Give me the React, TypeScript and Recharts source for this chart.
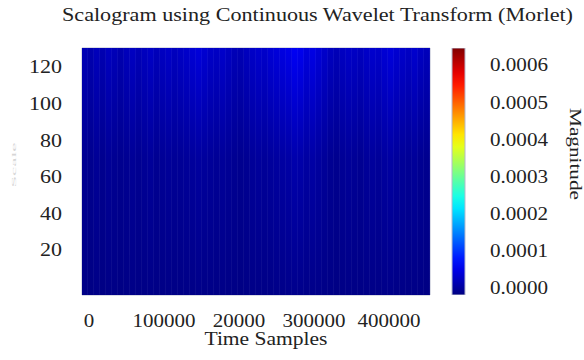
import { BarChart, Bar, XAxis, YAxis, Cell, ReferenceArea } from 'recharts';

// x ticks (the "20000" label is a typo in the source figure, kept as is)
const timeTicks = [0, 100000, 200000, 300000, 400000];
const timeTickLabels = ['0', '100000', '20000', '300000', '400000'];
const scaleTicks = [20, 40, 60, 80, 100, 120];
const magTicks = [0, 0.0001, 0.0002, 0.0003, 0.0004, 0.0005, 0.0006];

const SAMPLES_PER_COL = 8000;
const T_MAX = 464000;
const SCALE_MIN = -4.6;
const SCALE_MAX = 130.4;
const C_MIN = -0.00002;
const C_MAX = 0.000646;

// column magnitudes (x 1e-6) read at the top, middle and bottom of the scalogram
const topMag = [
  34, 30, 38, 32, 40, 36, 30, 38, 42, 36,
  40, 44, 38, 42, 46, 40, 44, 48, 54, 58,
  52, 46, 44, 48, 42, 36, 34, 40, 46, 50,
  48, 54, 58, 62, 66, 74, 70, 60, 64, 56,
  48, 40, 36, 42, 46, 44, 40, 46, 50, 48,
  54, 58, 52, 48, 44, 50, 42, 38,
];
const midMag = [
  12, 10, 14, 10, 14, 12, 10, 12, 14, 12,
  14, 16, 12, 14, 16, 14, 14, 16, 18, 20,
  18, 16, 14, 16, 14, 12, 10, 12, 16, 18,
  16, 18, 20, 22, 24, 28, 26, 22, 24, 20,
  16, 12, 10, 14, 16, 14, 12, 16, 18, 16,
  20, 22, 18, 16, 14, 16, 12, 10,
];
const lowMag = [
  4, 3, 5, 3, 4, 4, 3, 4, 5, 4,
  4, 5, 4, 4, 5, 4, 4, 5, 5, 6,
  5, 5, 4, 5, 4, 4, 3, 4, 5, 5,
  5, 5, 6, 6, 7, 8, 7, 6, 6, 6,
  5, 4, 3, 4, 5, 4, 4, 5, 5, 5,
  6, 6, 5, 5, 4, 5, 4, 3,
];

const FONT = '"Liberation Serif", "DejaVu Serif", serif';

function clamp01(v: number) {
  return Math.max(0, Math.min(1, v));
}

function jet(t: number): string {
  const x = clamp01(t);
  const r = clamp01(1.5 - Math.abs(4 * x - 3));
  const g = clamp01(1.5 - Math.abs(4 * x - 2));
  const b = clamp01(1.5 - Math.abs(4 * x - 1));
  const h = (v: number) => Math.round(v * 255).toString(16).padStart(2, '0');
  return `#${h(r)}${h(g)}${h(b)}`;
}

function magColor(m: number) {
  return jet((m * 1e-6) / C_MAX);
}

const columns = topMag.map((_, i) => ({
  t: (i + 0.5) * SAMPLES_PER_COL,
  span: [SCALE_MIN, SCALE_MAX],
}));

const colorbar = [{ name: 'c', span: [C_MIN, C_MAX] }];

function TimeTick(props: any) {
  const { x, y, payload } = props;
  const label = timeTickLabels[timeTicks.indexOf(payload.value)] ?? String(payload.value);
  return (
    <text
      x={x + 7}
      y={y}
      dy="0.71em"
      textAnchor="middle"
      fontSize={18}
      fontFamily={FONT}
      fill="#222"
      textLength={label.length * 10.5}
      lengthAdjust="spacingAndGlyphs"
    >
      {label}
    </text>
  );
}

function ScaleTick(props: any) {
  const { x, y, payload } = props;
  const label = String(payload.value);
  return (
    <text
      x={x}
      y={y}
      dy="0.355em"
      textAnchor="end"
      fontSize={18}
      fontFamily={FONT}
      fill="#222"
      textLength={label.length * 11}
      lengthAdjust="spacingAndGlyphs"
    >
      {label}
    </text>
  );
}

function MagTick(props: any) {
  const { x, y, payload } = props;
  return (
    <text
      x={x}
      y={y}
      dy="0.355em"
      textAnchor="start"
      fontSize={18}
      fontFamily={FONT}
      fill="#222"
      textLength={58}
      lengthAdjust="spacingAndGlyphs"
    >
      {payload.value.toFixed(4)}
    </text>
  );
}

export default function App() {
  const jetStops = Array.from({ length: 21 }, (_, k) => k / 20);
  return (
    <div style={{ position: 'absolute', left: 0, top: 0, width: 584, height: 360, background: '#fff' }}>
      <svg width={0} height={0} style={{ position: 'absolute' }}>
        <defs>
          <linearGradient id="jetbar" x1="0" y1="0" x2="0" y2="1">
            {jetStops.map((o) => (
              <stop key={o} offset={o} stopColor={jet(1 - o)} />
            ))}
          </linearGradient>
          {topMag.map((m, i) => (
            <linearGradient key={i} id={`col${i}`} x1="0" y1="0" x2="0" y2="1">
              <stop offset={0} stopColor={magColor(m)} />
              <stop offset={0.45} stopColor={magColor(midMag[i])} />
              <stop offset={1} stopColor={magColor(lowMag[i])} />
            </linearGradient>
          ))}
        </defs>
      </svg>

      <div style={{ position: 'absolute', left: 0, top: 0 }}>
        <BarChart
          width={584}
          height={360}
          data={columns}
          margin={{ top: 48, right: 154, bottom: 0, left: 22 }}
          barCategoryGap={0}
          barGap={0}
        >
          <XAxis
            dataKey="t"
            type="number"
            domain={[0, T_MAX]}
            ticks={timeTicks}
            allowDataOverflow
            height={65}
            tickSize={0}
            tickMargin={19}
            axisLine={false}
            tickLine={false}
            tick={<TimeTick />}
          />
          <YAxis
            type="number"
            domain={[SCALE_MIN, SCALE_MAX]}
            ticks={scaleTicks}
            allowDataOverflow
            width={60}
            tickSize={0}
            tickMargin={20}
            axisLine={false}
            tickLine={false}
            tick={<ScaleTick />}
          />
          <Bar dataKey="span" barSize={5.9} isAnimationActive={false}>
            {columns.map((_, i) => (
              <Cell key={i} fill={`url(#col${i})`} stroke={`url(#col${i})`} strokeWidth={0.6} />
            ))}
          </Bar>
          <ReferenceArea
            x1={0}
            x2={T_MAX}
            y1={SCALE_MIN}
            y2={SCALE_MAX}
            fill="none"
            fillOpacity={0}
            stroke="#b4b8cc"
            strokeWidth={1}
          />
        </BarChart>
      </div>

      <div style={{ position: 'absolute', left: 0, top: 0 }}>
        <BarChart
          width={584}
          height={360}
          data={colorbar}
          margin={{ top: 48, right: 0, bottom: 65, left: 452 }}
          barCategoryGap={0}
        >
          <XAxis dataKey="name" hide />
          <YAxis
            orientation="right"
            type="number"
            domain={[C_MIN, C_MAX]}
            ticks={magTicks}
            allowDataOverflow
            width={119}
            tickSize={0}
            tickMargin={25}
            axisLine={false}
            tickLine={false}
            tick={<MagTick />}
          />
          <Bar dataKey="span" fill="url(#jetbar)" stroke="#b4b8cc" strokeWidth={1} isAnimationActive={false} />
        </BarChart>
      </div>

      <svg width={584} height={360} style={{ position: 'absolute', left: 0, top: 0, pointerEvents: 'none' }}>
        <text
          x={62}
          y={21}
          fontSize={19}
          fontFamily={FONT}
          fill="#222"
          textLength={511}
          lengthAdjust="spacingAndGlyphs"
        >
          Scalogram using Continuous Wavelet Transform (Morlet)
        </text>
        <text
          x={266}
          y={345}
          textAnchor="middle"
          fontSize={18}
          fontFamily={FONT}
          fill="#222"
          textLength={123}
          lengthAdjust="spacingAndGlyphs"
        >
          Time Samples
        </text>
        <text
          transform="translate(570 154) rotate(90)"
          textAnchor="middle"
          fontSize={16}
          fontFamily={FONT}
          fill="#222"
          textLength={92}
          lengthAdjust="spacingAndGlyphs"
        >
          Magnitude
        </text>
        <text
          transform="translate(16 165) rotate(-90)"
          textAnchor="middle"
          fontSize={7}
          fontFamily={FONT}
          fill="#d6d6d6"
          textLength={45}
          lengthAdjust="spacingAndGlyphs"
        >
          Scale
        </text>
      </svg>
    </div>
  );
}
